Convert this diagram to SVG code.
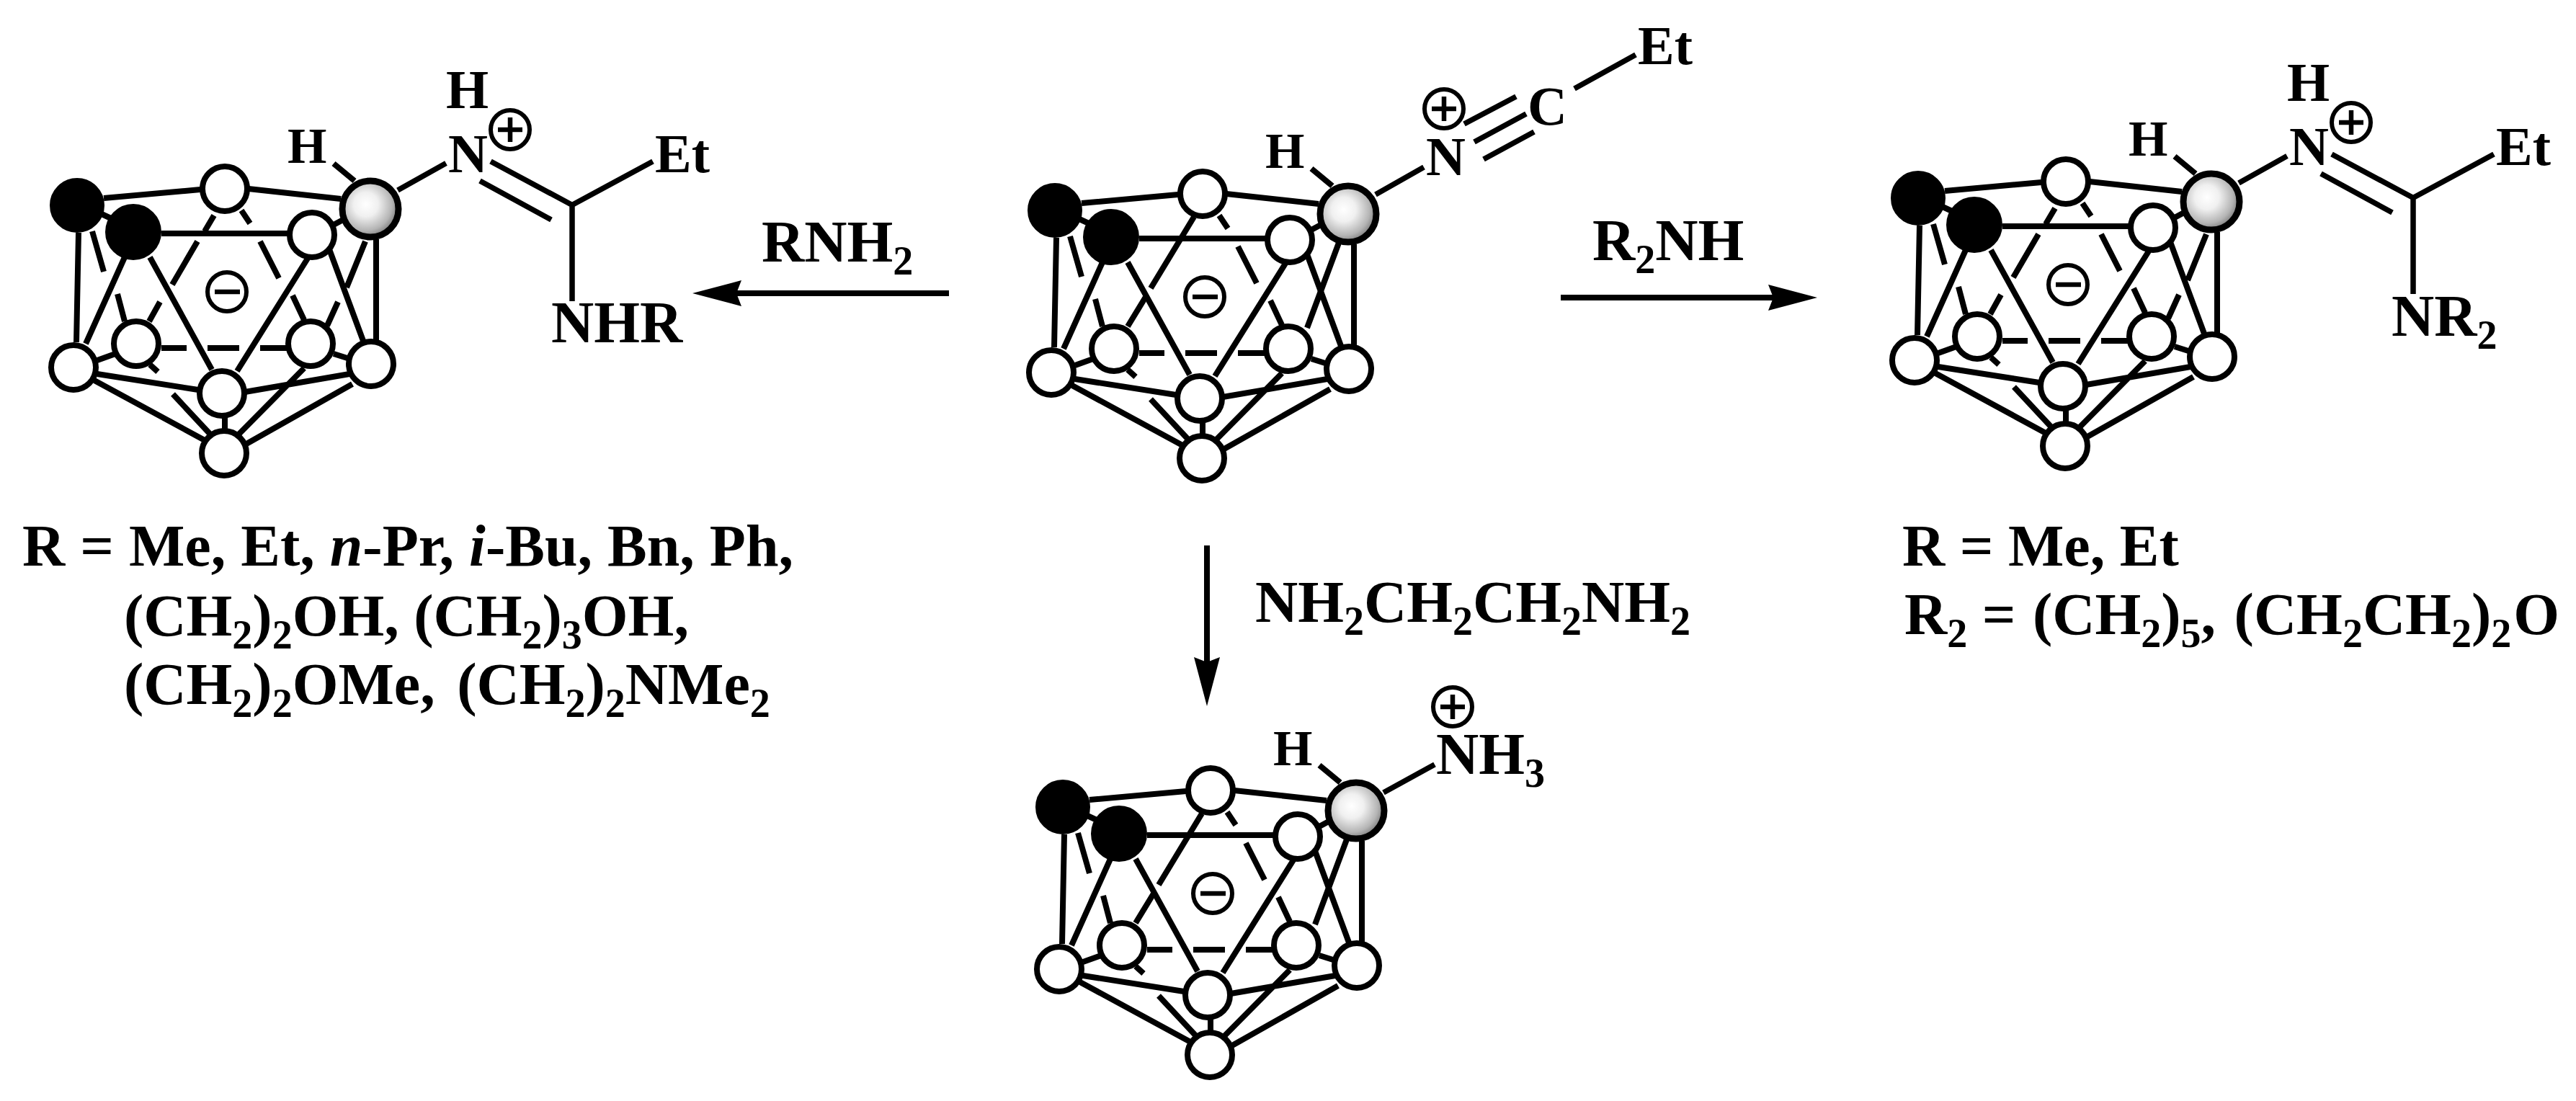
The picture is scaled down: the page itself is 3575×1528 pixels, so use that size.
<svg xmlns="http://www.w3.org/2000/svg" width="3575" height="1528" viewBox="0 0 3575 1528">
<style>
text{font-family:"Liberation Serif","Times New Roman",serif;font-weight:bold;fill:#000}
.m{font-size:82px}.a{font-size:76px}.h{font-size:70px}
.s{font-size:56px}
.b{stroke:#000;stroke-width:7.5;fill:none}
.l{stroke:#000;stroke-width:8;fill:none}
.o{fill:#fff;stroke:#000;stroke-width:8}
.k{fill:#000;stroke:#000;stroke-width:2}
.g{fill:url(#shade);stroke:#000;stroke-width:9}
.c{fill:#fff;stroke:#000;stroke-width:6}
.d{stroke:#000;stroke-width:6.5;fill:none}
.ar{stroke:#000;stroke-width:8;fill:none;marker-end:url(#head)}
</style>
<defs>
<radialGradient id="shade" cx="0.42" cy="0.42" r="0.62"><stop offset="0" stop-color="#fff"/><stop offset="0.35" stop-color="#f0f0f0"/><stop offset="0.75" stop-color="#b4b4b4"/><stop offset="1" stop-color="#6e6e6e"/></radialGradient>
<marker id="head" markerUnits="userSpaceOnUse" markerWidth="68" markerHeight="36" refX="7" refY="18" orient="auto" viewBox="0 0 68 36"><path d="M0,0L68,18L0,36L7,18Z" fill="#000"/></marker>
<g id="behindA"><path class="l" d="M1858,337L1814,455M1657,301L1597,400M1590,412L1565,453"/></g>
<g id="behindB"><path class="l" d="M1864,342L1838,406M1826,426L1811,459M1654,306L1641,328M1631,342L1596,402M1579,426L1564,453"/></g>
<g id="front">
<path class="l" d="M1501,282L1635,270M1702,269L1830,283M1581,331H1756M1498,304L1511,310M1820,319L1833,312M1466,330L1463,482M1530,364L1476,484M1565,364L1651,520M1785,364L1686,522M1814,353L1861,480M1879,339V480M1692,299L1704,317M1718,342L1744,393M1763,417L1779,451M1485,328L1501,384M1520,415L1530,453M1581,490H1616M1645,490H1689M1718,490H1756M1492,507L1517,498M1820,498L1839,504M1492,526L1632,548M1842,526L1697,551M1488,535L1641,618M1846,540L1699,623M1669,585V603M1565,513L1576,523M1597,554L1651,612M1779,518L1686,612M1820,234L1849,258"/>
<circle class="o" cx="1669" cy="269" r="31"/>
<circle class="o" cx="1790" cy="333" r="31"/>
<circle class="o" cx="1546" cy="484" r="31"/>
<circle class="o" cx="1788" cy="484" r="31"/>
<circle class="o" cx="1459" cy="517" r="31"/>
<circle class="o" cx="1872" cy="512" r="31"/>
<circle class="o" cx="1665" cy="553" r="31"/>
<circle class="o" cx="1668" cy="636" r="31"/>
<circle class="k" cx="1464" cy="292" r="37"/>
<circle class="k" cx="1542" cy="329" r="38"/>
<circle class="g" cx="1871" cy="297" r="39"/>
<circle class="c" cx="1672" cy="412" r="27"/>
<path class="d" d="M1655,412H1690"/>
</g>
<g id="cageA"><use href="#behindA"/><use href="#front"/></g>
<g id="cageB"><use href="#behindB"/><use href="#front"/></g>
<g id="plus"><circle class="c" r="27"/><path class="d" d="M-17,0H17M0,-17V17"/></g>
</defs>

<g id="connectors">
<line class="ar" x1="1317" y1="407" x2="1022" y2="407"/>
<line class="ar" x1="2166" y1="413" x2="2461" y2="413"/>
<line class="ar" x1="1675" y1="757" x2="1675" y2="919"/>
</g>

<g id="center">
<use href="#cageA"/>
<path class="b" d="M1909,270L1976,232M2032,172L2104,134M2046,197L2118,158M2059,221L2129,183M2185,123L2270,76"/>
<text class="h" x="1756" y="233">H</text>
<text class="a" x="1979" y="243">N</text>
<use href="#plus" x="2004" y="151"/>
<text class="a" x="2120" y="173">C</text>
<text class="a" x="2273" y="89">Et</text>
</g>

<g id="left">
<use href="#cageB" transform="translate(-1357,-7)"/>
<path class="b" d="M552,264L619,226.5M681,224L794,284.5M666,251L765,305M794,284.5L906,224M794,284.5V418"/>
<text class="h" x="399" y="226">H</text>
<text class="a" x="619" y="150">H</text>
<text class="a" x="622" y="239">N</text>
<use href="#plus" x="708" y="180"/>
<text class="a" x="909" y="239">Et</text>
<text class="m" x="765" y="475">NHR</text>
</g>

<g id="right">
<use href="#cageB" transform="translate(1198,-17)"/>
<path class="b" d="M3107,254L3174,216.5M3236,214L3349,274.5M3221,241L3320,295M3349,274.5L3461,214M3349,274.5V408"/>
<text class="h" x="2954" y="216">H</text>
<text class="a" x="3174" y="140">H</text>
<text class="a" x="3177" y="229">N</text>
<use href="#plus" x="3263" y="170"/>
<text class="a" x="3464" y="229">Et</text>
<text class="m" x="3319" y="466">NR<tspan class="s" dy="18">2</tspan></text>
</g>

<g id="bottom">
<use href="#cageA" transform="translate(11,828)"/>
<path class="b" d="M1920,1100L1991,1061"/>
<text class="h" x="1767" y="1062">H</text>
<text class="m" x="1993" y="1074">NH<tspan class="s" dy="18">3</tspan></text>
<use href="#plus" x="2016" y="981"/>
</g>

<g id="labels">
<text class="m" x="1057" y="363">RNH<tspan class="s" dy="18">2</tspan></text>
<text class="m" x="2210" y="361">R<tspan class="s" dy="18">2</tspan><tspan dy="-18">NH</tspan></text>
<text class="m" x="1742" y="863">NH<tspan class="s" dy="18">2</tspan><tspan dy="-18">CH</tspan><tspan class="s" dy="18">2</tspan><tspan dy="-18">CH</tspan><tspan class="s" dy="18">2</tspan><tspan dy="-18">NH</tspan><tspan class="s" dy="18">2</tspan></text>
<text class="m" x="31" y="785" word-spacing="0.5">R = Me, Et, <tspan font-style="italic">n</tspan>-Pr, <tspan font-style="italic">i</tspan>-Bu, Bn, Ph,</text>
<text class="m" x="172" y="882">(CH<tspan class="s" dy="18">2</tspan><tspan dy="-18">)</tspan><tspan class="s" dy="18">2</tspan><tspan dy="-18">OH, (CH</tspan><tspan class="s" dy="18">2</tspan><tspan dy="-18">)</tspan><tspan class="s" dy="18">3</tspan><tspan dy="-18">OH,</tspan></text>
<text class="m" x="172" y="977">(CH<tspan class="s" dy="18">2</tspan><tspan dy="-18">)</tspan><tspan class="s" dy="18">2</tspan><tspan dy="-18">OMe, </tspan><tspan dx="10">(CH</tspan><tspan class="s" dy="18">2</tspan><tspan dy="-18">)</tspan><tspan class="s" dy="18">2</tspan><tspan dy="-18">NMe</tspan><tspan class="s" dy="18">2</tspan></text>
<text class="m" x="2640" y="785">R = Me, Et</text>
<text class="m" x="2643" y="880">R<tspan class="s" dy="18">2</tspan><tspan dy="-18"> = </tspan><tspan dx="3">(CH</tspan><tspan class="s" dy="18">2</tspan><tspan dy="-18">)</tspan><tspan class="s" dy="18">5</tspan><tspan dy="-18">, </tspan><tspan dx="5">(CH</tspan><tspan class="s" dy="18">2</tspan><tspan dy="-18">CH</tspan><tspan class="s" dy="18">2</tspan><tspan dy="-18">)</tspan><tspan class="s" dy="18">2</tspan><tspan dy="-18" dx="3">O</tspan></text>
</g>
</svg>
